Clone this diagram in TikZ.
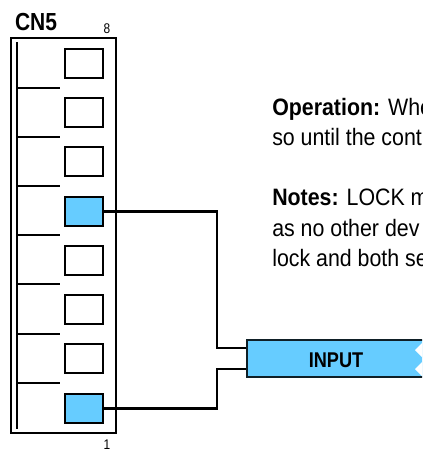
\documentclass[tikz,border=0pt]{standalone}
\usepackage{fontspec}
\setmainfont{Liberation Sans}[FakeStretch=0.9]
\newfontfamily\narrowfont{Liberation Sans}[FakeStretch=0.85]
\usepackage{color}
\definecolor{pinblue}{rgb}{0.4,0.8,1}
\usetikzlibrary{positioning}
\tikzstyle{pin}   = [draw, line width=1.5pt, minimum width=28.5pt, minimum height=22pt, inner sep=0pt]
\tikzstyle{on}    = [pin, fill=pinblue]
\tikzstyle{wire}  = [draw, line width=2.1pt]
\tikzstyle{rib}   = [draw, line width=1.2pt]
\tikzstyle{note}  = [anchor=north west, inner sep=0pt, align=left, font=\fontsize{17.8pt}{22.9pt}\selectfont]
\tikzstyle{tiny}  = [inner sep=0pt, font=\narrowfont\fontsize{10.5pt}{12pt}\selectfont]

\begin{document}
\begin{tikzpicture}[x=0.75pt, y=-0.75pt]

\useasboundingbox (0,0) rectangle (422,450);
\clip (0,0) rectangle (422,450);

% connector
\node [draw, line width=1.2pt, minimum width=78.75pt, minimum height=296.25pt, inner sep=0pt] at (63.75,235.5) (cn5) {};
\node [inner sep=0pt, font=\narrowfont\fontsize{18.5pt}{20pt}\selectfont\bfseries] at (36,22.5) (name) {CN5};
\node [tiny] at (107,28.5) (top) {8};
\node [tiny] at (107,444.5) (bottom) {1};
\coordinate (railtop) at (17,42);
\coordinate (railend) at (17,429);
\path [rib] (railtop) -- (railend);

% pins
\node [pin] at (84,63.5)  (p8) {};
\node [pin] at (84,112.5) (p7) {};
\node [pin] at (84,161.5) (p6) {};
\node [on]  at (84,211.5) (p5) {};
\node [pin] at (84,260.5) (p4) {};
\node [pin] at (84,309.5) (p3) {};
\node [pin] at (84,358.5) (p2) {};
\node [on]  at (84,408.5) (p1) {};

% ribs
\foreach \y in {88, 137, 186, 235, 284, 334, 383}
  \draw [rib] (17,\y) -- (60,\y);

% input
\node [draw=black!85!pinblue, line width=1.2pt, fill=pinblue, minimum width=133.5pt, minimum height=27.5pt, inner sep=0pt,
       font=\narrowfont\fontsize{16pt}{18pt}\selectfont\bfseries] at (336,358.5) (input) {\smash{\raisebox{-7pt}{INPUT}}};
\fill [white] (423,342) -- (415,350) -- (423,358) -- cycle;
\fill [white] (423,361) -- (415,369) -- (423,377) -- cycle;

% wires
\coordinate (upper) at (input.west |- 0,348);
\coordinate (lower) at (input.west |- 0,369);
\path [wire] (p5.east) -| (217,348) -- (upper);
\path [wire] (p1.east) -| (217,369) -- (lower);

% text
\node [note] at (272,98)  (operation) {\textbf{Operation:} Whe\\so until the cont};
\node [note] at (272,189) (notes)     {\textbf{Notes:} LOCK m\\as no other dev\\lock and both se};

\end{tikzpicture}
\end{document}
